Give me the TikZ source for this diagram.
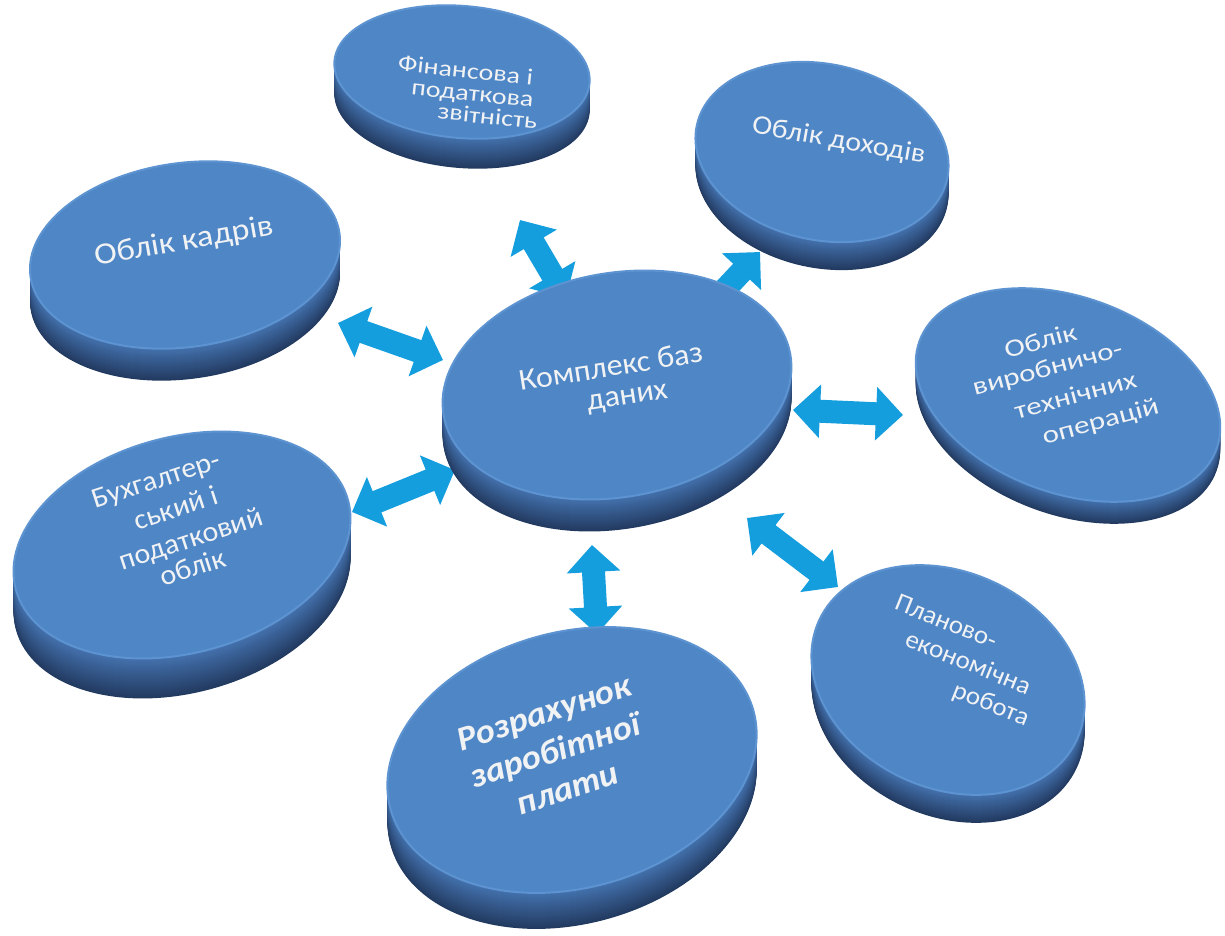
\documentclass[tikz,border=0pt]{standalone}
\usepackage{fontspec}
\setmainfont{Carlito}
\usetikzlibrary{arrows.meta,shapes.geometric}
\definecolor{face}{RGB}{79,134,198}
\definecolor{faceRim}{RGB}{92,147,208}
\definecolor{sideTop}{RGB}{68,114,174}
\definecolor{sideBot}{RGB}{34,58,96}
\definecolor{arrowc}{RGB}{20,158,222}
\definecolor{txt}{RGB}{240,242,244}
\newcommand\mydisc[7]{%
  \foreach \dd in {#7,...,1}{%
    \pgfmathtruncatemacro\pp{100*\dd/#7}%
    \fill[sideBot!\pp!sideTop, rotate around={#6:(#2,#3+\dd)}] (#2,#3+\dd) ellipse [x radius=#4, y radius=#5];
  }%
  \node[discface, minimum width=#4*2pt, minimum height=#5*2pt, rotate=#6] (#1) at (#2,#3) {};
}
\begin{document}
\begin{tikzpicture}[x=1pt,y=-1pt,
  discface/.style={ellipse, fill=face, draw=faceRim, line width=2pt, inner sep=0pt, outer sep=0pt},
  bigarrow/.style={line width=23pt, draw=arrowc, {Triangle[width=52pt,length=27pt]}-{Triangle[width=52pt,length=27pt]}},
  lab/.style={text=txt, inner sep=0pt, anchor=mid, font=\fontsize{#1}{#1}\selectfont},
  blab/.style={text=txt, inner sep=0pt, anchor=mid, font=\fontsize{#1}{#1}\selectfont\bfseries\itshape}]
\useasboundingbox (0,0) rectangle (1225,936);
\fill[white] (0,0) rectangle (1225,936);
% arrow end points
\coordinate (a1s) at (520,220); \coordinate (a1e) at (566,298);
\coordinate (a2s) at (760,252); \coordinate (a2e) at (698,318);
\coordinate (a3s) at (903,415); \coordinate (a3e) at (793,410);
\coordinate (a4s) at (338,323); \coordinate (a4e) at (443,360);
\coordinate (a5s) at (352,512); \coordinate (a5e) at (455,470);
\coordinate (a6s) at (597,634); \coordinate (a6e) at (592,545);
\coordinate (a7s) at (838,587); \coordinate (a7e) at (747,518);
\draw[bigarrow] (a1s) -- (a1e);
\draw[bigarrow] (a2s) -- (a2e);
\draw[bigarrow] (a3s) -- (a3e);
\draw[bigarrow] (a4s) -- (a4e);
\draw[bigarrow] (a5s) -- (a5e);
\draw[bigarrow] (a6s) -- (a6e);
\draw[bigarrow] (a7s) -- (a7e);
% discs
\mydisc{fin}{462}{72}{128}{66}{-5}{30}
\mydisc{doh}{822}{152}{128}{88}{-12}{28}
\mydisc{kad}{185}{255}{156}{92}{8}{32}
\mydisc{cen}{617}{385}{176}{112}{10}{32}
\mydisc{vyr}{1068}{395}{158}{98}{-20}{22}
\mydisc{bux}{182}{545}{172}{108}{15}{40}
\mydisc{roz}{572}{760}{188}{128}{15}{36}
\mydisc{plan}{948}{680}{142}{108}{-25}{28}
% labels
\node[lab=28, rotate=-6, yscale=0.82] (fin1) at (465,76) {Фінансова і};
\node[lab=28, rotate=-6, yscale=0.82] (fin2) at (472,99) {податкова};
\node[lab=28, rotate=-6, yscale=0.82] (fin3) at (487,122) {звітність};
\node[lab=30, rotate=-10, yscale=0.9] (doh1) at (838,146) {Облік доходів};
\node[lab=34, rotate=10, yscale=0.9] (kad1) at (185,248) {Облік кадрів};
\node[lab=32, rotate=9, yscale=0.95] (cen1) at (612,374) {Комплекс баз};
\node[lab=32, rotate=9, yscale=0.95] (cen2) at (628,402) {даних};
\node[lab=31, rotate=15, yscale=0.8] (vyr1) at (1042,347) {Облік};
\node[lab=31, rotate=15, yscale=0.8] (vyr2) at (1049,374) {виробничо-};
\node[lab=31, rotate=15, yscale=0.8] (vyr3) at (1077,401) {технічних};
\node[lab=31, rotate=15, yscale=0.8] (vyr4) at (1102,427) {операцій};
\node[lab=30, rotate=18, yscale=0.95] (bux1) at (158,486) {Бухгалтер-};
\node[lab=30, rotate=18, yscale=0.95] (bux2) at (178,515) {ський і};
\node[lab=30, rotate=18, yscale=0.95] (bux3) at (193,545) {податковий};
\node[lab=30, rotate=18, yscale=0.95] (bux4) at (195,574) {облік};
\node[blab=36, rotate=18, yscale=0.95] (roz1) at (547,721) {Розрахунок};
\node[blab=36, rotate=18, yscale=0.95] (roz2) at (558,759) {заробітної};
\node[blab=36, rotate=18, yscale=0.95] (roz3) at (570,797) {плати};
\node[lab=27, rotate=-22, yscale=0.95] (plan1) at (944,627) {Планово-};
\node[lab=27, rotate=-22, yscale=0.95] (plan2) at (966,668) {економічна};
\node[lab=27, rotate=-22, yscale=0.95] (plan3) at (989,709) {робота};
\end{tikzpicture}
\end{document}
